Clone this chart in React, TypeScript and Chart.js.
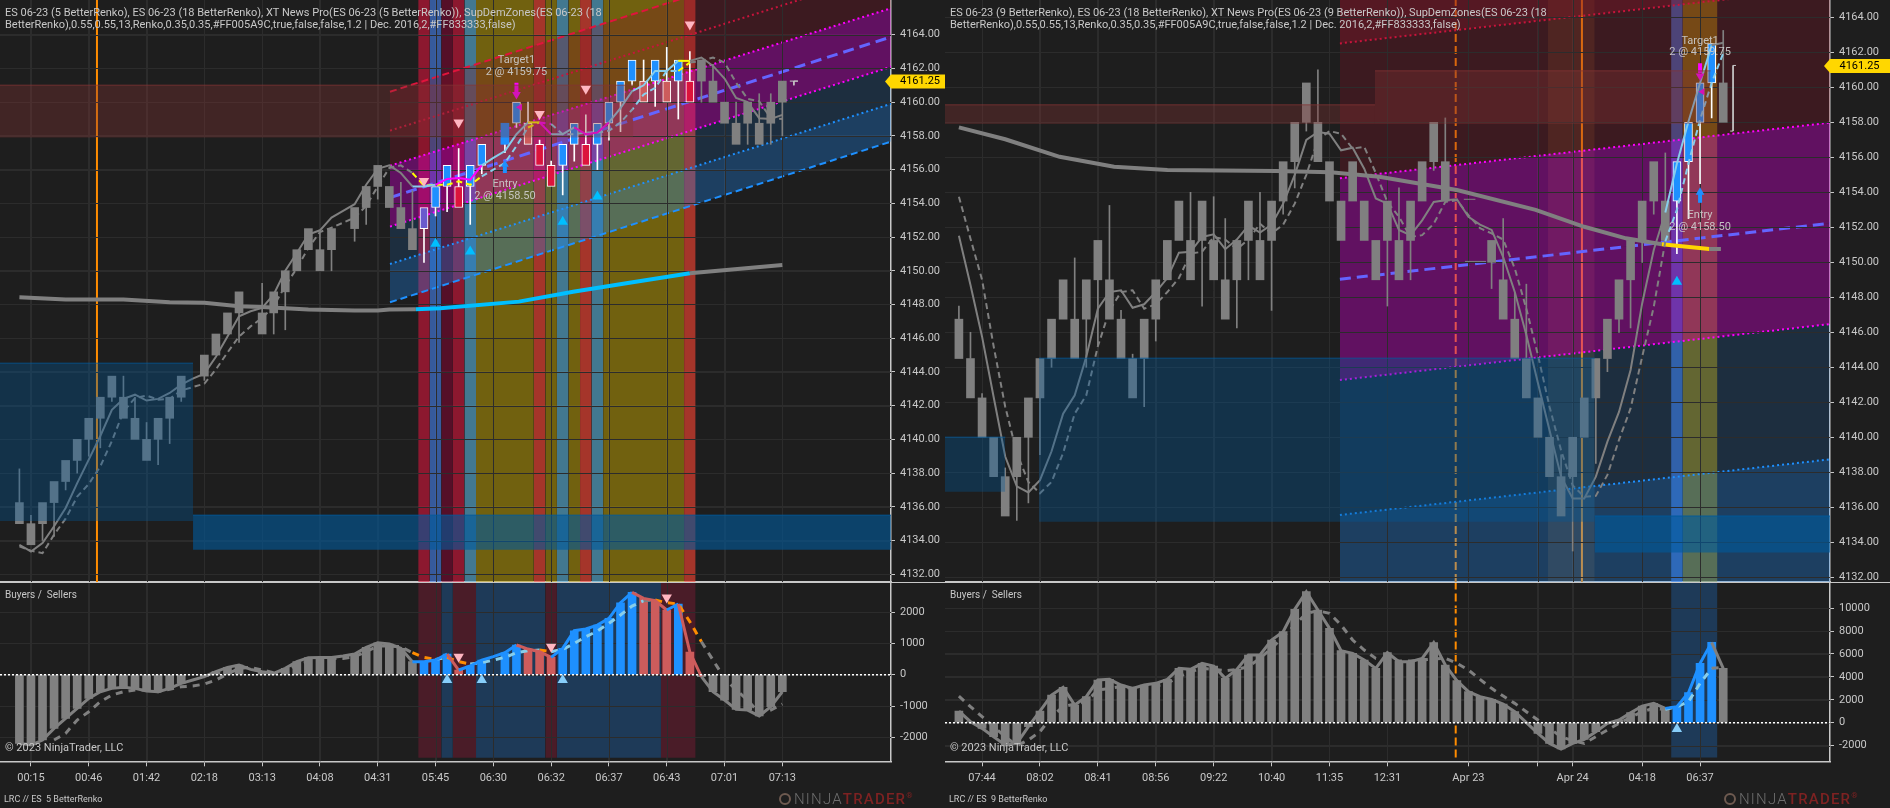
import React, { useEffect, useRef } from "react";
import { Chart, registerables } from "chart.js";

Chart.register(...registerables);

/* ---------- left chart: ES 5 BetterRenko ---------- */
const leftBodyLow = [4135,4133.75,4135,4136.25,4137.5,4138.75,4140,4141.25,4142.5,4141.25,4140,4138.75,4140,4141.25,4142.5,null,4143.75,4145,4146.25,4147.5,null,4146.25,4147.5,4148.75,4150,4151.25,4150,4151.25,null,4152.5,4153.75,4155,4153.75,4152.5,4151.25,4152.5,4153.75,4155,4153.75,4155,4156.25,null,4157.5,4158.75,4157.5,4156.25,4155,4156.25,4157.5,4156.25,4157.5,4158.75,4160,4161.25,4160,4161.25,4160,4161.25,4160,4161.25,4160,4158.75,4157.5,4158.75,4157.5,4158.75,4160];
const leftBrick = 1.25;
const leftWicks = [[0,4138.25],[1,4135.5],[2,4134],[3,4134.25],[4,4137],[5,4138],[6,4139],[7,4139.5],[8,4142.25],[9,4143.75],[10,4142.5],[11,4141],[12,4138.5],[13,4139.75],[14,4142.25],[16,4143.5],[19,4145.75],[21,4149.25],[22,4146.25],[23,4146.5],[26,4152.25],[27,4150],[29,4151.75],[30,4152.75],[31,4154.25],[33,4155.25],[34,4154.75],[35,4150.5],[36,4153.25],[37,4153.5],[38,4157.25],[39,4152.75],[40,4155.75],[42,4157],[43,4158.5],[44,4160],[45,4157.75],[46,4156.5],[47,4154.5],[48,4156.5],[49,4159.25],[50,4156],[51,4157.75],[52,4158.25],[53,4161],[54,4162.5],[55,4159.75],[56,4163.25],[57,4159],[58,4163],[59,4160],[60,4162.25],[62,4160],[63,4157.5],[64,4160.5],[65,4157.5],[65,4160.5],[66,4158]];
const leftFast = [4133.75,4133.35,4133.85,4134.85,4135.93,4137.4,4138.8,4140.2,4141.75,4142.4,4142.65,4142.3,4142.4,4142.75,4143.25,4143.6,4143.9,4144.9,4146.1,4147.3,4147.6,4147.8,4148.6,4150,4151.05,4152.15,4152.4,4153.15,4153.55,4153.95,4155.1,4156.05,4156.25,4155.8,4155,4155,4155.1,4155.45,4155.5,4155.4,4156.25,4156.7,4157.1,4158.1,4158.8,4158.8,4158.1,4158.1,4158.5,4158.1,4158.2,4158.8,4159.65,4160.65,4161,4161.85,4161.85,4162.45,4162.45,4162.65,4162.15,4161.4,4160.25,4160,4159.05,4159,4159.25];
const leftSlow = [4133.65,4133.4,4133.25,4134.35,4135.3,4136.6,4137.35,4138.4,4139.9,4141.65,4142.45,4142.6,4142.35,4142.4,4142.9,4143.1,4143.3,4144.15,4145.15,4146.1,4146.7,4147.2,4147.9,4149.1,4150.15,4151.35,4152.3,4152.55,4152.85,4153.15,4153.85,4155,4156.1,4156.25,4155.8,4155.05,4155.1,4155.1,4155.3,4155.1,4155.6,4156,4156.4,4157.4,4158.5,4158.8,4158.7,4158.1,4158.1,4158.2,4158.2,4158.3,4158.8,4159.55,4160.45,4160.85,4161.85,4161.85,4162.35,4162.45,4162.65,4162.35,4161.15,4160.2,4160.05,4159.05,4159];
const leftLongX = [0,4,9,13,16,19,21,25,29,31,32,34.3,36.4,43.2,47.9,52.5,58,66];
const leftLongY = [4148.43,4148.3,4148.3,4148.13,4148.1,4147.9,4147.85,4147.7,4147.65,4147.65,4147.7,4147.72,4147.78,4148.17,4148.76,4149.26,4149.85,4150.34];
const leftTickIdx = [1,6,11,16,21,26,31,36,41,46,51,56,61,66];
const leftTickLabels = ["00:15","00:46","01:42","02:18","03:13","04:08","04:31","05:45","06:30","06:32","06:37","06:43","07:01","07:13"];
const leftBandEdges = [34.5,35.5,36.5,37.5,38.5,39.5,44.5,45.5,46.5,47.5,48.5,49.5,50.5,57.5,58.5];
const leftBandKinds = ["crimson","blue","dark","crimson","teal","olive","red","olive","teal","olive","red","teal","olive","red"];
const leftFootEdges = [34.5,36.5,37.5,39.5,45.5,46.5,55.5,58.5];
const leftFootKinds = ["wine","navy","wine","navy","wine","navy","wine"];
const leftHist = [-2190,-2245,-2085,-1713,-1394,-1075,-755,-543,-436,-404,-436,-521,-543,-436,-277,-170,-64,96,234,309,170,96,43,202,415,543,553,553,596,660,872,1021,979,840,415,415,468,660,149,277,468,575,702,947,819,734,553,840,1404,1458,1585,1798,2298,2628,2437,2362,2064,2256,724,-64,-543,-809,-1107,-1128,-1319,-1021,-543];
const leftHistMissing = [15,20,28,41];
const leftHistSlow = [null,null,null,-2085,-1873,-1447,-1181,-862,-649,-543,-489,-489,-543,-468,-383,-362,-298,-170,21,202,234,149,64,149,309,415,468,521,521,575,734,915,915,894,702,553,489,553,415,340,383,468,553,702,766,787,734,809,1000,1213,1394,1639,1905,2192,2362,2383,2298,2256,1692,1053,468,-117,-489,-809,-1234,-1128,-936];

/* ---------- right chart: ES 9 BetterRenko ---------- */
const rightBodyLow = [4144.5,4142.25,4140,4137.75,4135.5,4137.75,4140,4142.25,4144.5,4146.75,4144.5,4146.75,4149,4146.75,4144.5,4142.25,4144.5,4146.75,4149,4151.25,4149,4151.25,4149,4146.75,4149,4151.25,4149,4151.25,4153.5,4155.75,4158,4155.75,4153.5,4151.25,4153.5,4151.25,4149,4151.25,4149,4151.25,4153.5,4155.75,4153.5,null,null,null,4150,4146.75,4144.5,4142.25,4140,4137.75,4135.5,4137.75,4140,4142.25,4144.5,4146.75,4149,4151.25,4153.5,4151.25,4153.5,4155.75,4158,4160.25,4158];
const rightBodyHigh = [4146.75,4144.5,4142.25,4140,4137.75,4140,4142.25,4144.5,4146.75,4149,4146.75,4149,4151.25,4149,4146.75,4144.5,4146.75,4149,4151.25,4153.5,4151.25,4153.5,4151.25,4149,4151.25,4153.5,4151.25,4153.5,4155.75,4158,4160.25,4158,4155.75,4153.5,4155.75,4153.5,4151.25,4153.5,4151.25,4153.5,4155.75,4158,4155.75,null,null,null,4151.25,4149,4146.75,4144.5,4142.25,4140,4137.75,4140,4142.25,4144.5,4146.75,4149,4151.25,4153.5,4155.75,4153.5,4155.75,4158,4160.25,4162.5,4160.25];
const rightWicks = [[0,4147.5],[1,4146],[2,4142.5],[4,4138.25],[5,4135.25],[6,4136.25],[7,4139],[8,4144],[10,4150.25],[11,4144],[12,4145.25],[13,4153.25],[14,4147.25],[15,4144.75],[16,4141.75],[17,4145.5],[20,4154],[21,4147.5],[22,4153.75],[23,4152.5],[24,4146.25],[25,4149],[26,4154],[27,4147.25],[28,4152.75],[29,4154.25],[30,4157.5],[31,4161],[37,4147.5],[38,4154.25],[39,4149],[41,4155.25],[42,4158.25],[46,4148.5],[47,4152.5],[48,4148.25],[49,4148.75],[52,4139],[53,4133.5],[55,4138.5],[56,4143.75],[57,4146],[58,4146.25],[59,4150],[60,4152.75],[61,4156.25],[62,4150.5],[63,4152.5],[64,4154.5],[65,4158.25],[66,4163.25]];
const rightFast = [4151.52,4148.7,4145.75,4142.3,4138.9,4137.2,4136.85,4137.55,4139.2,4141.35,4142.4,4144.6,4147.35,4148.3,4148.4,4147.4,4147.6,4148.3,4149.1,4150.55,4150.6,4151.45,4151.6,4150.75,4151.3,4152.1,4151.7,4152.15,4153.35,4155,4157,4157.45,4157.35,4156.4,4156.55,4155.35,4153.65,4153.35,4151.85,4151.55,4152.4,4153.45,4153.55,4153.6,4152.6,4152.15,4151.85,4150.3,4148.3,4145.85,4143.1,4140.4,4137.75,4136.5,4136.5,4137.75,4139.75,4141.45,4143.85,4147.65,4150.7,4152.85,4155.65,4158.05,4160.25,4162.4,4162.55];
const rightSlow = [4153.75,4151.35,4149,4145.2,4141.75,4139.1,4137.45,4136.8,4137.45,4139.1,4141.35,4142.4,4145.2,4147.25,4148.3,4148.4,4147.35,4147.6,4148.3,4149.1,4150.5,4150.6,4151.45,4151.3,4150.75,4151.3,4152.2,4151.65,4152.15,4153.35,4155,4157,4157.5,4157.35,4156.5,4156.6,4155.1,4153.45,4152.6,4151.45,4151.55,4152.2,4153.45,4153.55,4152.7,4151.95,4151.65,4151.3,4149.65,4147.35,4144.7,4141.75,4139.25,4137.25,4136.6,4136.65,4137.85,4139.85,4141.65,4144.6,4147.45,4151.2,4153,4155.65,4158.15,4160.25,4161.95];
const rightLongX = [0,4,8.7,13.4,18,27.4,32.1,36.3,43,49.8,54,57.6,60.7,64.8,65.8];
const rightLongY = [4157.71,4157.03,4156.03,4155.46,4155.27,4155.22,4155.14,4154.89,4154.13,4153,4152.03,4151.37,4151.03,4150.76,4150.76];
const rightTickIdx = [2,7,12,17,22,27,32,37,44,50,53,59,64];
const rightTickLabels = ["07:44","08:02","08:41","08:56","09:22","10:40","11:35","12:31","Apr 23","","Apr 24","04:18","06:37"];
const rightHist = [1018,87,-495,-1222,-1949,-1804,-349,1018,2415,3084,1542,2269,3724,3782,3287,2996,3287,3433,3782,4742,4654,5178,4945,3869,4654,5905,5905,7214,7942,9891,11432,9832,8232,6283,6051,5469,4742,6108,5323,5323,5614,6981,5032,3665,2705,2269,2036,1629,960,0,-931,-1804,-2298,-1804,-1454,-785,-58,233,873,1454,1687,1251,1396,2618,5178,7011,4742];
const rightHistSlow = [2327,1396,524,-349,-1222,-2007,-1513,-785,524,1396,1629,1833,2851,2996,3142,2996,2996,3200,3433,4014,4451,4742,4654,4538,4654,4887,5614,6487,7505,8523,9541,9774,9541,8523,7214,6341,5614,5469,5381,5381,5469,5556,5614,5178,4596,3782,2996,2327,1687,960,233,-495,-1222,-1571,-1804,-1222,-640,-58,465,960,1251,1164,1396,1833,3433,4742,4829];

const priceTicksStep2 = [4132,4134,4136,4138,4140,4142,4144,4146,4148,4150,4152,4154,4156,4158,4160,4162,4164];
const leftHistTicks = [-2000,-1000,0,1000,2000];
const rightHistTicks = [-2000,0,2000,4000,6000,8000,10000];
const currentPrice = 4161.25;

/* ---------- look ---------- */
const BG = "#1e1e1e";
const GRID = "#2c2c2c";
const AXIS = "#c8c8c8";
const FONT = "Roboto, 'Open Sans', sans-serif";
const GRAY = "#808080";
const BLUE = "#1e90ff";
const CRIMSON = "#dc143c";
const SALMON = "#cd5c5c";
const SKY = "#87ceeb";
const MAG = "#ff00ff";
const YEL = "#ffff00";
const ORG = "#ff8c00";
const bandColor: any = {
  crimson: "rgba(220,20,60,0.58)",
  blue: "rgba(70,130,240,0.6)",
  dark: "rgba(139,0,50,0.5)",
  teal: "rgba(90,180,220,0.6)",
  olive: "rgba(196,164,0,0.5)",
  red: "rgba(255,69,50,0.6)",
  wine: "#4a1c28",
  navy: "#1e3a58",
};
const redZone = "rgba(131,51,51,0.35)";
const blueZone = "rgba(0,90,156,0.35)";
const blueZoneStrong = "rgba(0,90,156,0.6)";

/* ---------- dataset helpers ---------- */
const pick = (x: number, ranges: any[], dflt: string) => {
  for (const r of ranges) if (x >= r[0] && x < r[1]) return r[2];
  return dflt;
};
const rect = (x0: number, x1: number, top: number, bottom: number, color: string, edge?: string) => ({
  type: "line",
  data: [{ x: x0, y: top }, { x: x1, y: top }],
  fill: { value: bottom },
  backgroundColor: color,
  borderColor: edge || "rgba(0,0,0,0)",
  borderWidth: edge ? 1.5 : 0,
  pointRadius: 0,
});
const path = (pts: any[], color: string, width: number, dash?: number[], ranges?: any[]) => ({
  type: "line",
  data: pts.map((p) => ({ x: p[0], y: p[1] })),
  borderColor: color,
  borderWidth: width,
  borderDash: dash || [],
  pointRadius: 0,
  fill: false,
  tension: 0,
  segment: ranges ? { borderColor: (c: any) => pick(c.p0.parsed.x, ranges, color) } : undefined,
});
const series = (vals: any[], color: string, width: number, dash?: number[], ranges?: any[]) =>
  path(vals.map((v, i) => [i, v]).filter((p) => p[1] !== null), color, width, dash, ranges);
const marks = (pts: any[], color: string, radius: number, rotation: number) => ({
  type: "line",
  data: pts.map((p) => ({ x: p[0], y: p[1] })),
  showLine: false,
  fill: false,
  pointStyle: "triangle",
  pointRadius: radius,
  pointRotation: rotation,
  pointBackgroundColor: color,
  pointBorderColor: color,
  pointBorderWidth: 0,
});
const candles = (low: any[], high: any[], wicks: any[], hotFrom: number, hotTo: number, colors: any[], noBorder: number[]) => {
  const wickData = wicks.map((w) => {
    const i = w[0];
    const edge = w[1] > low[i] ? high[i] : low[i];
    return { x: i, y: [edge, w[1]] };
  });
  const wick = {
    type: "bar",
    data: wickData,
    grouped: false,
    barThickness: 1,
    borderWidth: 0,
    backgroundColor: wickData.map((d) => (d.x >= hotFrom && d.x <= hotTo ? "#ffffff" : GRAY)),
  };
  const rows = low.map((l, i) => ({ l, h: high[i], i })).filter((r) => r.l !== null);
  const body = {
    type: "bar",
    data: rows.map((r) => ({ x: r.i, y: [r.l, r.h] })),
    grouped: false,
    barThickness: 8,
    borderSkipped: false,
    backgroundColor: rows.map((r) => pick(r.i, colors, GRAY)),
    borderColor: rows.map((r) => "#ffffff"),
    borderWidth: rows.map((r) => (r.i >= hotFrom && r.i <= hotTo && !noBorder.includes(r.i) ? 1 : 0)),
  };
  return [wick, body];
};
const histogram = (vals: number[], colors: any[], missing: number[]) => {
  const rows = vals.map((v, i) => ({ v, i })).filter((r) => !missing.includes(r.i));
  return {
    type: "bar",
    data: rows.map((r) => ({ x: r.i, y: [0, r.v] })),
    grouped: false,
    barThickness: 8,
    borderWidth: 0,
    backgroundColor: rows.map((r) => pick(r.i, colors, GRAY)),
  };
};
const bands = (edges: number[], kinds: string[], top: number, bottom: number) =>
  kinds.map((k, i) => rect(edges[i], edges[i + 1], top, bottom, bandColor[k]));

/* Slanted regression channel: each line fills down to the next one */
const channel = (ds: any[], x0: number, x1: number, lines: any[]) => {
  lines.forEach((l, i) => {
    const item: any = path([[x0, l[0]], [x1, l[1]]], l[2], l[3], l[4]);
    if (i < lines.length - 1) {
      item.fill = { target: ds.length + 1 };
      item.backgroundColor = l[5];
    }
    ds.push(item);
  });
};

const finish = (ds: any[]) => ds.forEach((d, i) => (d.order = ds.length - i));

const makeAxes = (o: any) => ({
  x: {
    type: "linear",
    offset: false,
    min: o.xMin,
    max: o.xMax,
    afterBuildTicks: (s: any) => { s.ticks = o.xTicks.map((v: number) => ({ value: v })); },
    afterFit: (s: any) => { s.height = o.xHeight; s.paddingLeft = 0; s.paddingRight = 0; s.paddingTop = 0; s.paddingBottom = 0; },
    grid: { offset: false, color: GRID, lineWidth: 1, drawTicks: o.xHeight > 0, tickLength: 5, tickColor: AXIS },
    border: { color: AXIS, width: 1.5 },
    ticks: {
      display: o.xHeight > 0,
      autoSkip: false,
      maxRotation: 0,
      minRotation: 0,
      padding: 5,
      color: AXIS,
      font: { family: FONT, size: 11 },
      callback: (v: number) => { const k = o.xTicks.indexOf(v); return k >= 0 ? o.xLabels[k] : ""; },
    },
  },
  y: {
    type: "linear",
    position: "right",
    min: o.yMin,
    max: o.yMax,
    afterBuildTicks: (s: any) => { s.ticks = o.yTicks.map((v: number) => ({ value: v })); },
    afterFit: (s: any) => { s.width = o.yWidth; s.paddingLeft = 0; s.paddingRight = 0; s.paddingTop = 0; s.paddingBottom = 0; },
    grid: { color: GRID, lineWidth: 1, tickLength: 4, tickColor: AXIS },
    border: { color: AXIS, width: 1.5 },
    ticks: {
      autoSkip: false,
      padding: 5,
      color: AXIS,
      font: { family: FONT, size: 11 },
      callback: (v: number) => (o.price ? v.toFixed(2) : String(v)),
    },
  },
});

const overlay = (o: any) => ({
  id: "overlay" + Math.random().toString(36).slice(2),
  beforeDatasetDraw(chart: any, args: any) {
    if (args.index !== o.gridAt) return;
    const { ctx, chartArea: a, scales } = chart;
    ctx.save();
    ctx.strokeStyle = GRID;
    ctx.lineWidth = 1;
    ctx.beginPath();
    scales.y.ticks.forEach((t: any) => {
      const y = Math.round(scales.y.getPixelForValue(t.value)) + 0.5;
      ctx.moveTo(a.left, y);
      ctx.lineTo(a.right, y);
    });
    scales.x.ticks.forEach((t: any) => {
      const x = Math.round(scales.x.getPixelForValue(t.value)) + 0.5;
      ctx.moveTo(x, a.top);
      ctx.lineTo(x, a.bottom);
    });
    ctx.stroke();
    ctx.restore();
  },
  afterDraw(chart: any) {
    const { ctx, scales, width } = chart;
    ctx.save();
    ctx.font = `11px ${FONT}`;
    ctx.fillStyle = "rgba(205,205,205,0.92)";
    ctx.textAlign = "center";
    ctx.textBaseline = "middle";
    (o.notes || []).forEach((n: any) => {
      ctx.fillText(n[0], scales.x.getPixelForValue(n[1]), scales.y.getPixelForValue(n[2]));
    });
    if (o.tag) {
      const y = scales.y.getPixelForValue(currentPrice) + 0.5;
      ctx.fillStyle = "#ffd700";
      ctx.beginPath();
      ctx.moveTo(o.tag.tip, y);
      ctx.lineTo(o.tag.tip + 6, y - 7);
      ctx.lineTo(width, y - 7);
      ctx.lineTo(width, y + 7);
      ctx.lineTo(o.tag.tip + 6, y + 7);
      ctx.closePath();
      ctx.fill();
      ctx.fillStyle = "#000000";
      ctx.font = `11px ${FONT}`;
      ctx.textAlign = "left";
      ctx.fillText(currentPrice.toFixed(2), o.tag.text, y);
    }
    ctx.restore();
  },
});

const build = (canvas: HTMLCanvasElement, datasets: any[], axes: any, plugin: any) =>
  new Chart(canvas, {
    type: "line",
    data: { datasets },
    plugins: [plugin],
    options: {
      responsive: false,
      maintainAspectRatio: false,
      devicePixelRatio: 1,
      animation: false,
      events: [],
      layout: { padding: 0, autoPadding: false },
      plugins: { legend: { display: false }, tooltip: { enabled: false }, title: { display: false } },
      scales: axes,
    },
  } as any);

/* ---------- the four panes ---------- */
const L = { xMin: -1.678, xMax: 75.4, yMin: 4131.54, yMax: 4166.06 };
const R = { xMin: -1.2, xMax: 75.22, yMin: 4131.73, yMax: 4164.99 };

function leftPrice(canvas: HTMLCanvasElement) {
  const ds: any[] = [];
  ds.push(path([[6.71, L.yMin], [6.71, L.yMax]], ORG, 2));
  ds.push(...bands(leftBandEdges, leftBandKinds, L.yMax, L.yMin));
  channel(ds, 32.06, L.xMax, [
    [4160.62, 4170.1, "#e0143c", 2, [7, 4], "rgba(131,20,40,0.3)"],
    [4158.31, 4167.8, "#c8143c", 2, [2, 3], "rgba(131,20,40,0.3)"],
    [4156.23, 4165.57, MAG, 2, [2, 3], "rgba(190,0,190,0.42)"],
    [4154.34, 4163.87, "#6464ff", 3, [11, 6], "rgba(190,0,190,0.42)"],
    [4152.62, 4162.1, MAG, 2, [2, 3], "rgba(30,144,255,0.15)"],
    [4150.4, 4159.9, BLUE, 2, [2, 3], "rgba(30,144,255,0.3)"],
    [4148.13, 4157.66, BLUE, 2, [7, 4]],
  ]);
  const gridAt = ds.length;
  ds.push(...candles(leftBodyLow, leftBodyLow.map((v) => (v === null ? null : v + leftBrick)), leftWicks, 35, 58, [[35, 36, "#6a5acd"], [36, 38, BLUE], [38, 39, CRIMSON], [39, 44, BLUE], [44, 45, SALMON], [45, 47, CRIMSON], [47, 49, BLUE], [49, 50, CRIMSON], [50, 54, BLUE], [54, 55, SALMON], [55, 56, BLUE], [56, 57, SALMON], [57, 58, BLUE], [58, 59, CRIMSON]], [42]));
  ds.push(path([[66.65, currentPrice], [67.35, currentPrice], [67, currentPrice], [67, 4161]], "#c8c8c8", 1));
  ds.push(path(leftLongX.map((x, i) => [x, leftLongY[i]]), GRAY, 4, [], [[34, 58, "#00bfff"]]));
  ds.push(series(leftSlow, GRAY, 2, [6, 4], [[34, 40, YEL], [40, 44, SKY], [44, 45, YEL], [45, 46, MAG], [46, 57, SKY], [57, 58, YEL]]));
  ds.push(series(leftFast, GRAY, 2, [], [[34, 36, SKY], [36, 40, MAG], [40, 44, SKY], [44, 45, YEL], [45, 46, MAG], [46, 48, SKY], [48, 51, MAG], [51, 57, SKY], [57, 58, YEL]]));
  ds.push(path([[43, 4161.15], [43, 4160.55]], MAG, 4));
  ds.push(marks([[43, 4160.45]], MAG, 5, 180));
  ds.push(marks([[43.3, 4159.7]], MAG, 4, -90));
  ds.push(path([[42, 4155.8], [42, 4156.2]], BLUE, 4));
  ds.push(marks([[42, 4156.3]], BLUE, 4.5, 0));
  ds.push(rect(L.xMin, 53.1, 4161, 4157.9, redZone, "rgba(131,51,51,0.5)"));
  ds.push(rect(L.xMin, 15.02, 4144.51, 4135.16, blueZone, "rgba(0,90,156,0.5)"));
  ds.push(rect(15.02, L.xMax, 4135.5, 4133.46, blueZoneStrong, "rgba(0,90,156,0.6)"));
  ds.push(marks([[35, 4155.33], [38, 4158.8], [45, 4159.3], [49, 4160.8], [58, 4164.6]], "#ffb6c1", 6, 180));
  ds.push(marks([[36, 4151.6], [39, 4151.15], [47, 4152.9], [50, 4154.4]], "#00bfff", 6, 0));
  finish(ds);
  return build(canvas, ds, makeAxes({ ...L, xTicks: leftTickIdx, xLabels: leftTickLabels, xHeight: 0, yTicks: priceTicksStep2, yWidth: 54, price: true }), overlay({
    gridAt,
    notes: [["Target1", 43, 4162.5], ["2 @ 4159.75", 43, 4161.77], ["Entry", 42, 4155.13], ["2 @ 4158.50", 42, 4154.44]],
    tag: { tip: 885, text: 900 },
  }));
}

function rightPrice(canvas: HTMLCanvasElement) {
  const ds: any[] = [];
  ds.push(path([[42.9, R.yMin], [42.9, R.yMax]], ORG, 2, [8, 4]));
  ds.push(path([[53.8, R.yMin], [53.8, R.yMax]], ORG, 2));
  ds.push(rect(61.5, 62.5, R.yMax, R.yMin, bandColor.blue));
  ds.push(rect(62.5, 65.5, R.yMax, R.yMin, bandColor.olive));
  ds.push(rect(50.87, 54.9, R.yMax, R.yMin, "rgba(255,165,60,0.12)"));
  channel(ds, 32.9, R.xMax, [
    [4170.25, 4173.4, "#c8143c", 2, [2, 3], "rgba(131,20,40,0.55)"],
    [4162.51, 4165.7, "#c8143c", 2, [2, 3], "rgba(131,20,40,0.3)"],
    [4154.8, 4157.98, MAG, 2, [2, 3], "rgba(190,0,190,0.42)"],
    [4149.03, 4152.23, "#6464ff", 3, [11, 6], "rgba(190,0,190,0.42)"],
    [4143.27, 4146.47, MAG, 2, [2, 3], "rgba(30,144,255,0.15)"],
    [4135.56, 4138.74, BLUE, 2, [2, 3], "rgba(30,144,255,0.3)"],
    [4127.85, 4131.05, BLUE, 2, [7, 4]],
  ]);
  const gridAt = ds.length;
  ds.push(...candles(rightBodyLow, rightBodyHigh, rightWicks, 62, 65, [[62, 66, BLUE]], []));
  ds.push(path([[67.1, currentPrice], [66.85, currentPrice], [66.85, 4157.5], [66.6, 4157.5]], "#c8c8c8", 1));
  ds.push(path([[43.6, 4153.6], [44.6, 4153.6]], GRAY, 1));
  ds.push(path([[43.7, 4150.05], [45.5, 4150.05]], GRAY, 1));
  ds.push(path(rightLongX.map((x, i) => [x, rightLongY[i]]), GRAY, 4, [], [[60.7, 64.8, "#ffd700"]]));
  ds.push(series(rightSlow, GRAY, 2, [6, 4], [[61, 66, SKY]]));
  ds.push(series(rightFast, GRAY, 2, [], [[61, 65, SKY]]));
  ds.push(path([[64, 4161.37], [64, 4160.8]], MAG, 4));
  ds.push(marks([[64, 4160.65]], MAG, 5, 180));
  ds.push(marks([[64.2, 4159.75]], MAG, 4, -90));
  ds.push(path([[64, 4153.4], [64, 4153.9]], BLUE, 4));
  ds.push(marks([[64, 4154.0]], BLUE, 5, 0));
  ds.push(rect(R.xMin, 35.93, 4159, 4157.9, redZone, "rgba(131,51,51,0.5)"));
  ds.push(rect(35.93, 64.9, 4160.95, 4157.9, redZone, "rgba(131,51,51,0.5)"));
  ds.push(rect(R.xMin, 4, 4140, 4136.89, blueZone, "rgba(0,90,156,0.5)"));
  ds.push(rect(6.92, 54.9, 4144.51, 4135.18, blueZone, "rgba(0,90,156,0.5)"));
  ds.push(rect(54.9, R.xMax, 4135.5, 4133.41, blueZoneStrong, "rgba(0,90,156,0.6)"));
  ds.push(marks([[62, 4148.89]], "#00bfff", 6, 0));
  finish(ds);
  return build(canvas, ds, makeAxes({ ...R, xTicks: rightTickIdx, xLabels: rightTickLabels, xHeight: 0, yTicks: priceTicksStep2, yWidth: 60, price: true }), overlay({
    gridAt,
    notes: [["Target1", 64, 4162.65], ["2 @ 4159.75", 64, 4161.98], ["Entry", 64, 4152.7], ["2 @ 4158.50", 64, 4152.02]],
    tag: { tip: 879, text: 894.5 },
  }));
}

function leftFlow(canvas: HTMLCanvasElement) {
  const yMin = -2764, yMax = 2927, footBottom = -2649;
  const ds: any[] = [];
  ds.push(...bands(leftFootEdges, leftFootKinds, yMax, footBottom));
  const gridAt = ds.length;
  ds.push(histogram(leftHist, [[35, 38, BLUE], [38, 39, SALMON], [39, 44, BLUE], [44, 47, SALMON], [47, 54, BLUE], [54, 57, SALMON], [57, 58, BLUE], [58, 59, SALMON]], leftHistMissing));
  ds.push(series(leftHistSlow, GRAY, 3, [7, 6], [[34, 36, ORG], [36, 37, SKY], [37, 39, ORG], [39, 45, SKY], [45, 46, ORG], [46, 54, SKY], [55, 59, ORG]]));
  ds.push(series(leftHist, GRAY, 3, [], [[34, 37, BLUE], [37, 38, SALMON], [38, 43, BLUE], [43, 46, SALMON], [46, 53, BLUE], [53, 56, SALMON], [56, 57, BLUE], [57, 59, SALMON]]));
  ds.push(path([[L.xMin, 0], [L.xMax, 0]], "#ffffff", 1.5, [2, 2]));
  ds.push(marks([[38, 575], [46, 894], [56, 2468]], "#ffb6c1", 6, 180));
  ds.push(marks([[37, -170], [40, -170], [47, -170]], "#87cefa", 6, 0));
  finish(ds);
  return build(canvas, ds, makeAxes({ xMin: L.xMin, xMax: L.xMax, yMin, yMax, xTicks: leftTickIdx, xLabels: leftTickLabels, xHeight: 46.7, yTicks: leftHistTicks, yWidth: 54, price: false }), overlay({ gridAt }));
}

function rightFlow(canvas: HTMLCanvasElement) {
  const yMin = -3368, yMax = 12190, footBottom = -3040;
  const ds: any[] = [];
  ds.push(rect(61.5, 65.5, yMax, footBottom, bandColor.navy));
  ds.push(path([[42.9, footBottom], [42.9, yMax]], ORG, 2, [8, 4]));
  const gridAt = ds.length;
  ds.push(histogram(rightHist, [[62, 66, BLUE]], []));
  ds.push(series(rightHistSlow, GRAY, 3, [7, 6], [[61, 65, SKY]]));
  ds.push(series(rightHist, GRAY, 3, [], [[61, 65, BLUE]]));
  ds.push(path([[R.xMin, 0], [R.xMax, 0]], "#ffffff", 1.5, [2, 2]));
  ds.push(marks([[62, -553]], "#87cefa", 6, 0));
  finish(ds);
  return build(canvas, ds, makeAxes({ xMin: R.xMin, xMax: R.xMax, yMin, yMax, xTicks: rightTickIdx, xLabels: rightTickLabels, xHeight: 46.7, yTicks: rightHistTicks, yWidth: 60, price: false }), overlay({ gridAt }));
}

/* ---------- page ---------- */
const textStyle = (left: number, top: number, size: number): React.CSSProperties => ({
  position: "absolute", left, top, fontFamily: FONT, fontSize: size, color: "#c8c8c8", whiteSpace: "pre", lineHeight: "12px",
});

function Logo({ left }: { left: number }) {
  return (
    <div style={{ position: "absolute", left, top: 791, height: 16, display: "flex", alignItems: "center", fontFamily: FONT, fontSize: 15, letterSpacing: 1.2, whiteSpace: "pre" }}>
      <span style={{ width: 12, height: 12, borderRadius: 6, border: "2px solid #6e5a50", boxSizing: "border-box", marginRight: 3 }} />
      <span style={{ color: "#6e6e6e", fontWeight: 300 }}>NINJA</span>
      <span style={{ color: "#7d2222", fontWeight: 500 }}>TRADER</span>
      <span style={{ color: "#7d2222", fontSize: 8, alignSelf: "flex-start" }}>®</span>
    </div>
  );
}

function Header({ left, first, foot }: { left: number; first: string; foot: string }) {
  return (
    <>
      <div style={textStyle(left + 5, 6.5, 11)}>{first}</div>
      <div style={textStyle(left + 5, 18.5, 11)}>BetterRenko),0.55,0.55,13,Renko,0.35,0.35,#FF005A9C,true,false,false,1.2 | Dec. 2016,2,#FF833333,false)</div>
      <div style={textStyle(left + 5, 589, 10)}>Buyers /  Sellers</div>
      <div style={textStyle(left + 5, 741.5, 11)}>© 2023 NinjaTrader, LLC</div>
      <div style={textStyle(left + 4, 793, 9)}>{foot}</div>
    </>
  );
}

export default function App() {
  const a = useRef<HTMLCanvasElement>(null);
  const b = useRef<HTMLCanvasElement>(null);
  const c = useRef<HTMLCanvasElement>(null);
  const d = useRef<HTMLCanvasElement>(null);
  useEffect(() => {
    document.body.style.margin = "0";
    document.body.style.background = BG;
    const charts = [leftPrice(a.current!), rightPrice(b.current!), leftFlow(c.current!), rightFlow(d.current!)];
    return () => charts.forEach((ch) => ch.destroy());
  }, []);
  const cv = (left: number, top: number): React.CSSProperties => ({ position: "absolute", left, top, display: "block" });
  return (
    <div style={{ position: "fixed", left: 0, top: 0, width: 1890, height: 808, background: BG, overflow: "hidden" }}>
      <canvas ref={a} width={945} height={582} style={cv(0, 0)} />
      <canvas ref={b} width={945} height={582} style={cv(945, 0)} />
      <canvas ref={c} width={945} height={225} style={cv(0, 583)} />
      <canvas ref={d} width={945} height={225} style={cv(945, 583)} />
      <div style={{ position: "absolute", left: 0, top: 581.5, width: 1890, height: 1.5, background: AXIS }} />
      <Header left={0} first="ES 06-23 (5 BetterRenko), ES 06-23 (18 BetterRenko), XT News Pro(ES 06-23 (5 BetterRenko)), SupDemZones(ES 06-23 (18" foot="LRC // ES  5 BetterRenko" />
      <Header left={945} first="ES 06-23 (9 BetterRenko), ES 06-23 (18 BetterRenko), XT News Pro(ES 06-23 (9 BetterRenko)), SupDemZones(ES 06-23 (18" foot="LRC // ES  9 BetterRenko" />
      <Logo left={779} />
      <Logo left={1724} />
    </div>
  );
}
